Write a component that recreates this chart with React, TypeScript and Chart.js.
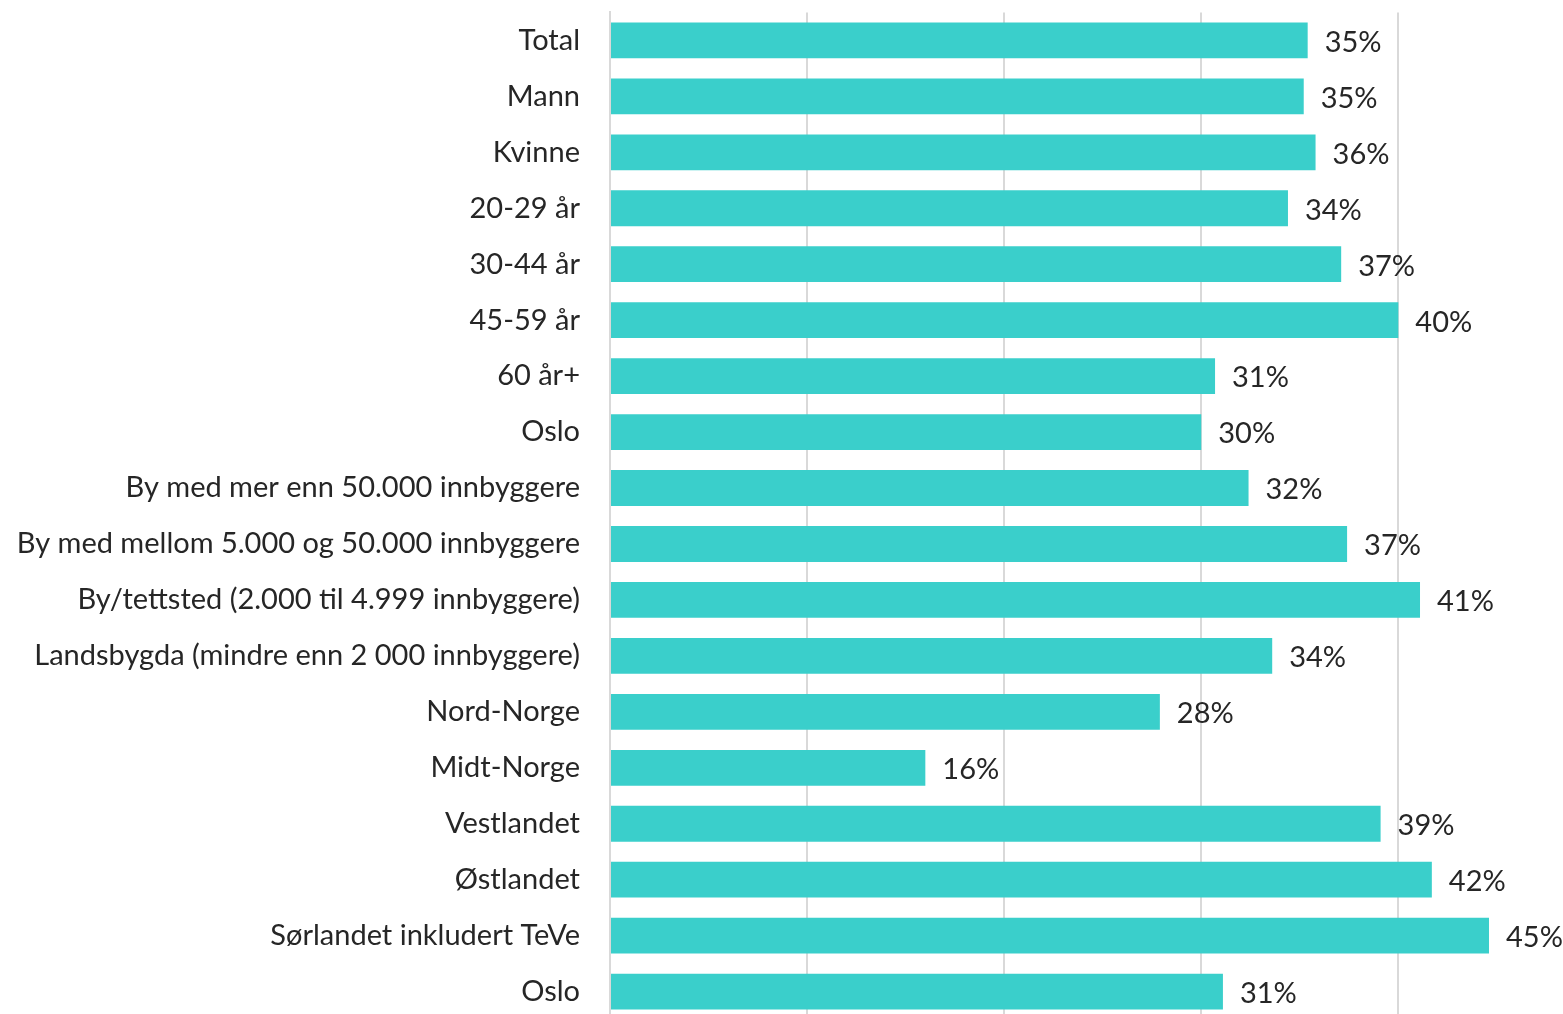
import React, { useEffect, useRef } from "react";
import { Chart, registerables } from "chart.js";

Chart.register(...registerables);

const categories: string[] = [
  "Total",
  "Mann",
  "Kvinne",
  "20-29 år",
  "30-44 år",
  "45-59 år",
  "60 år+",
  "Oslo",
  "By med mer enn 50.000 innbyggere",
  "By med mellom 5.000 og 50.000 innbyggere",
  "By/tettsted (2.000 til 4.999 innbyggere)",
  "Landsbygda (mindre enn 2 000 innbyggere)",
  "Nord-Norge",
  "Midt-Norge",
  "Vestlandet",
  "Østlandet",
  "Sørlandet inkludert TeVe",
  "Oslo",
];

const values: number[] = [
  35.4, 35.2, 35.8, 34.4, 37.1, 40.0, 30.7, 30.0, 32.4, 37.4, 41.1, 33.6, 27.9, 16.0, 39.1, 41.7, 44.6, 31.1,
];

const valueLabels: string[] = [
  "35%", "35%", "36%", "34%", "37%", "40%", "31%", "30%", "32%", "37%", "41%", "34%", "28%", "16%", "39%", "42%", "45%", "31%",
];

const FONT_FAMILY = "Lato, 'Open Sans', sans-serif";
const FONT_SIZE = 29;
const TEXT_COLOR = "#262626";
const BAR_COLOR = "#3ACFCB";
const GRID_COLOR = "#D9D9D9";

const valueLabelPlugin = {
  id: "valueLabels",
  afterDatasetsDraw(chart: any) {
    const { ctx } = chart;
    const meta = chart.getDatasetMeta(0);
    ctx.save();
    ctx.font = `${FONT_SIZE}px ${FONT_FAMILY}`;
    ctx.fillStyle = TEXT_COLOR;
    ctx.textAlign = "left";
    ctx.textBaseline = "middle";
    meta.data.forEach((bar: any, i: number) => {
      ctx.fillText(valueLabels[i], bar.x + 17, bar.y + 2);
    });
    ctx.restore();
  },
};

const SHIFT = 35;

export default function App() {
  const canvasRef = useRef<HTMLCanvasElement | null>(null);

  useEffect(() => {
    if (!canvasRef.current) return;
    const chart = new Chart(canvasRef.current, {
      type: "bar",
      data: {
        labels: categories,
        datasets: [
          {
            data: values,
            backgroundColor: BAR_COLOR,
            borderWidth: 0,
            barPercentage: 0.64,
            categoryPercentage: 1,
          },
        ],
      },
      options: {
        indexAxis: "y",
        animation: false,
        responsive: false,
        maintainAspectRatio: false,
        layout: { padding: { top: 12, bottom: 10, left: 0, right: 7 } },
        plugins: {
          legend: { display: false },
          tooltip: { enabled: false },
        },
        scales: {
          x: {
            min: 0,
            max: 48,
            ticks: { display: false, stepSize: 10 },
            afterBuildTicks: (scale: any) => {
              scale.ticks = scale.ticks.filter((t: any) => Math.abs(t.value / 10 - Math.round(t.value / 10)) < 1e-6);
            },
            grid: { color: GRID_COLOR, lineWidth: 2, drawTicks: false },
            border: { display: false },
          },
          y: {
            afterFit: (scale: any) => {
              scale.width = 610;
            },
            ticks: {
              padding: 30,
              color: TEXT_COLOR,
              font: { family: FONT_FAMILY, size: FONT_SIZE },
              autoSkip: false,
            },
            grid: { display: false, drawTicks: false },
            border: { display: true, color: GRID_COLOR, width: 2 },
          },
        },
      },
      plugins: [valueLabelPlugin],
    });
    return () => chart.destroy();
  }, []);

  return (
    <div
      style={{
        position: "fixed",
        left: 0,
        top: 0,
        width: 1563,
        height: 1014,
        overflow: "hidden",
        background: "#ffffff",
      }}
    >
      <canvas
        ref={canvasRef}
        width={1563}
        height={1102}
        style={{ display: "block", width: 1563, height: 1102, marginTop: -SHIFT }}
      />
    </div>
  );
}
